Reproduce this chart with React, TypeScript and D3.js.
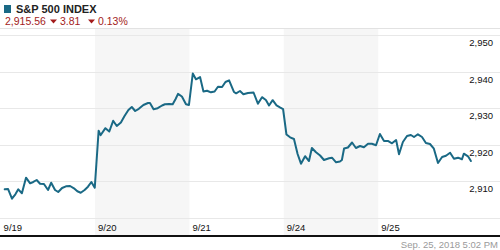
import React from "react";
import * as d3 from "d3";

const title = "S&P 500 INDEX";
const lastPrice = "2,915.56";
const change = "3.81";
const changePct = "0.13%";
const timestamp = "Sep. 25, 2018 5:02 PM";

const dayLabels = ["9/19", "9/20", "9/21", "9/24", "9/25"];
const minutesPerDay = 390;

// [minutes after open, index value]
const day919: [number, number][] = [
  [17, 2907.84], [31, 2907.92], [47, 2905.27], [61, 2906.48], [73, 2907.84], [88, 2906.75],
  [105, 2911.01], [122, 2909.48], [135, 2909.84], [149, 2910.38], [163, 2909.37], [179, 2909.29],
  [196, 2907.65], [209, 2909.64], [225, 2907.65], [238, 2907.1], [254, 2908.2], [270, 2908.66],
  [287, 2908.74], [303, 2908.11], [317, 2907.3], [331, 2906.91], [347, 2907.65], [361, 2908.55],
  [375, 2909.84], [389, 2908.28],
];
const day920: [number, number][] = [
  [15, 2923.85], [23, 2922.62], [43, 2924.54], [59, 2923.63], [75, 2926.56], [90, 2925.14],
  [107, 2926.09], [122, 2927.87], [138, 2929.51], [152, 2930.33], [166, 2929.23], [181, 2929.84],
  [200, 2930.87], [219, 2931.42], [227, 2931.42], [242, 2929.7], [259, 2930.0], [277, 2930.74],
  [289, 2931.07], [306, 2931.15], [321, 2931.07], [333, 2932.51], [343, 2933.93], [359, 2933.2],
  [376, 2931.07], [388, 2930.87],
];
const day921: [number, number][] = [
  [14, 2939.48], [27, 2937.9], [44, 2938.52], [58, 2934.56], [73, 2934.78], [89, 2934.34],
  [104, 2934.56], [118, 2935.87], [135, 2935.79], [149, 2937.16], [164, 2937.62], [184, 2934.43],
  [193, 2934.07], [209, 2934.7], [223, 2933.83], [242, 2934.15], [265, 2934.29], [283, 2931.23],
  [300, 2933.01], [316, 2932.24], [329, 2930.74], [344, 2932.19], [360, 2930.79], [374, 2930.25],
  [387, 2929.78],
];
const day924: [number, number][] = [
  [11, 2922.81], [26, 2922.05], [42, 2921.58], [57, 2917.49], [71, 2914.84], [88, 2916.89],
  [104, 2915.57], [116, 2919.13], [133, 2917.95], [150, 2917.08], [166, 2915.85], [187, 2916.31],
  [199, 2916.48], [216, 2915.22], [232, 2915.44], [240, 2915.85], [249, 2918.99], [265, 2919.26],
  [282, 2920.63], [298, 2919.13], [315, 2919.67], [331, 2919.32], [348, 2920.3], [364, 2920.28],
  [381, 2919.89],
];
const day925: [number, number][] = [
  [7, 2922.95], [24, 2921.04], [40, 2921.04], [57, 2920.41], [74, 2921.31], [86, 2917.4],
  [102, 2920.77], [119, 2922.4], [135, 2922.68], [148, 2922.13], [164, 2922.87], [181, 2922.13],
  [197, 2920.49], [214, 2920.22], [230, 2918.93], [247, 2915.03], [264, 2916.67], [280, 2917.02],
  [297, 2917.84], [313, 2916.2], [330, 2916.48], [346, 2916.04], [354, 2917.57], [371, 2916.86],
  [383, 2915.56],
];
const days = [day919, day920, day921, day924, day925];

const gridValues = [2900, 2910, 2920, 2930, 2940, 2950];
const tickLabels = ["2,910", "2,920", "2,930", "2,940", "2,950"];
const tickValues = [2910, 2920, 2930, 2940, 2950];

const W = 500;
const H = 250;
const LINE = "#1a6985";
const RED = "#a31b1b";
const FONT = "Arial, 'Liberation Sans', sans-serif";

export default function App() {
  const x = d3.scaleLinear().domain([0, minutesPerDay * dayLabels.length]).range([0.6, 472.6]);
  const y = d3.scaleLinear().domain([2900, 2950]).range([218, 35]);

  const points: [number, number][] = days.flatMap((d, i) =>
    d.map(([m, v]) => [i * minutesPerDay + m, v] as [number, number])
  );
  const line = d3
    .line<[number, number]>()
    .x((d) => x(d[0]))
    .y((d) => y(d[1]));

  return (
    <svg
      width={W}
      height={H}
      style={{ position: "absolute", left: 0, top: 0, background: "#fff" }}
      fontFamily={FONT}
    >
      {/* shaded alternate days */}
      {dayLabels.map((lab, i) =>
        i % 2 === 1 ? (
          <rect
            key={"band" + lab}
            x={x(i * minutesPerDay)}
            y={29}
            width={x((i + 1) * minutesPerDay) - x(i * minutesPerDay)}
            height={206}
            fill="#f6f6f6"
          />
        ) : null
      )}
      {/* header separator */}
      <line x1={0} x2={W} y1={28.5} y2={28.5} stroke="#e2e2e2" strokeWidth={1} />
      {/* gridlines */}
      {gridValues.map((v) => (
        <line
          key={"g" + v}
          x1={0}
          x2={W}
          y1={Math.round(y(v)) + 0.5}
          y2={Math.round(y(v)) + 0.5}
          stroke="#e8e8e8"
          strokeWidth={1}
        />
      ))}
      {/* y labels */}
      {tickValues.map((v, i) => (
        <text
          key={"t" + v}
          x={493}
          y={Math.round(y(v)) + 11}
          textAnchor="end"
          fontSize={9.5}
          fill="#111"
        >
          {tickLabels[i]}
        </text>
      ))}
      {/* x labels */}
      {dayLabels.map((lab, i) => (
        <text key={"x" + lab} x={x(i * minutesPerDay) + 3} y={230.5} fontSize={9.5} fill="#111">
          {lab}
        </text>
      ))}
      {/* price line */}
      <path
        d={line(points) || ""}
        fill="none"
        stroke={LINE}
        strokeWidth={2}
        strokeLinejoin="round"
        strokeLinecap="round"
      />
      {/* bottom rule */}
      <rect x={0} y={235} width={W} height={2} fill="#111" />
      <text x={498} y={248} textAnchor="end" fontSize={9.5} fill="#9a9a9a">
        {timestamp}
      </text>
      {/* header */}
      <rect x={4} y={5} width={7} height={8} fill={LINE} />
      <text x={16} y={13} fontSize={11} fontWeight="bold" fill="#222">
        {title}
      </text>
      <text x={5} y={24.5} fontSize={10.5} fill={RED}>
        {lastPrice}
      </text>
      <path d="M50,19.5 L57,19.5 L53.5,23.5 Z" fill={RED} />
      <text x={60} y={24.5} fontSize={10.5} fill={RED}>
        {change}
      </text>
      <path d="M88,19.5 L95,19.5 L91.5,23.5 Z" fill={RED} />
      <text x={98} y={24.5} fontSize={10.5} fill={RED}>
        {changePct}
      </text>
    </svg>
  );
}
